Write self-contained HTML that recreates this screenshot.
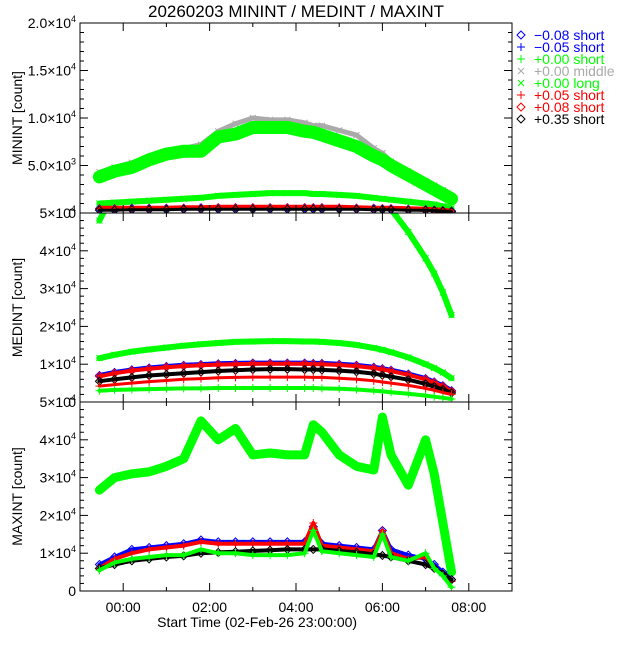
<!DOCTYPE html>
<html><head><meta charset="utf-8"><style>
body{margin:0;background:#fff;}
svg text{font-family:"Liberation Sans",sans-serif;}
</style></head><body>
<svg id="chart" width="640" height="640" xmlns="http://www.w3.org/2000/svg">
<defs>
<clipPath id="c1"><rect x="80" y="23" width="432" height="190"/></clipPath>
<clipPath id="c2"><rect x="80" y="213" width="432" height="189"/></clipPath>
<clipPath id="c3"><rect x="80" y="402" width="432" height="189"/></clipPath>
</defs>
<rect width="640" height="640" fill="#fff"/>
<text x="296" y="17" font-size="17" text-anchor="middle">20260203 MININT / MEDINT / MAXINT</text>
<g id="layer"></g>
</svg>
<script>
// time axis (hours from 00:00)
const T = [-0.55,-0.2,0.2,0.6,1.0,1.4,1.8,2.2,2.6,3.0,3.4,3.8,4.2,4.4,4.6,5.0,5.4,5.8,6.0,6.2,6.6,7.0,7.2,7.4,7.6];
const xTickLabels = ["00:00","02:00","04:00","06:00","08:00"];
const xTickHours = [0,2,4,6,8];
// Panel 1 MININT (x1000 counts)
const p1GreenUp = [3.8,4.4,4.8,5.6,6.2,6.5,6.5,8,8.3,9,9,9,8.6,8.5,8.2,7.6,7,6,5.6,5,4,3,2.5,2,1.5];
const p1Gray = [4.3,4.8,5.3,5.9,6.4,6.8,7.2,8.6,9.4,10,9.8,9.8,9.5,9.2,9.2,8.7,8.2,6.8,6.3,5.4,4.4,3.4,2.9,2.4,1.7];
const p1GreenLow = [1.0,1.1,1.2,1.3,1.4,1.5,1.6,1.8,1.9,2.0,2.1,2.1,2.1,2.0,2.0,1.9,1.8,1.6,1.5,1.4,1.2,1.0,0.9,0.7,0.5];
const p1Red = [0.5,0.5,0.5,0.5,0.5,0.55,0.55,0.6,0.6,0.6,0.6,0.6,0.6,0.6,0.6,0.6,0.55,0.5,0.5,0.5,0.45,0.4,0.35,0.3,0.2];
const p1Blue = [0.45,0.45,0.5,0.5,0.5,0.5,0.55,0.55,0.55,0.55,0.55,0.55,0.55,0.55,0.55,0.5,0.5,0.5,0.45,0.45,0.4,0.35,0.3,0.25,0.2];
const p1Black = [0.3,0.3,0.35,0.35,0.35,0.4,0.4,0.4,0.4,0.4,0.4,0.4,0.4,0.4,0.4,0.4,0.4,0.35,0.35,0.35,0.3,0.3,0.25,0.2,0.15];
// Panel 2 MEDINT
const p2GreenTop = [48,56,60,60,60,60,60,60,60,60,60,60,60,60,60,60,60,60,60,51,45,38,34,29,23];
const p2GreenBand = [11.6,12.5,13.3,13.9,14.4,14.9,15.3,15.6,15.9,16,16.1,16.1,16,16,15.9,15.6,15.1,14.3,13.8,13.2,11.8,10,9,7.8,6.3];
const p2Blue = [7,7.8,8.5,9,9.4,9.7,9.9,10.1,10.2,10.3,10.3,10.3,10.3,10.2,10.2,10,9.7,9.2,8.8,8.4,7.4,6.2,5.3,4.3,3];
const p2RedUp = [6.8,7.6,8.3,8.8,9.2,9.5,9.7,9.9,10,10.1,10.1,10.1,10.1,10,10,9.8,9.5,9,8.6,8.2,7.2,6,5.1,4.1,2.8];
const p2Black = [5.5,6,6.5,7,7.3,7.6,7.9,8.2,8.4,8.6,8.7,8.7,8.6,8.6,8.5,8.3,8,7.5,7.1,6.7,5.9,4.8,4.1,3.3,2.4];
const p2RedLow = [4.2,4.6,5,5.4,5.7,6,6.2,6.4,6.5,6.6,6.6,6.6,6.6,6.5,6.5,6.3,6,5.6,5.3,5,4.4,3.6,3.1,2.5,2];
const p2GreenBot = [3,3.2,3.3,3.4,3.5,3.6,3.6,3.7,3.7,3.7,3.7,3.7,3.7,3.7,3.6,3.5,3.3,3,2.8,2.6,2.2,1.7,1.4,1.1,0.8];
// Panel 3 MAXINT
const p3GreenX = [26.7,30,31,31.5,33,35,45,40,43,36,36.5,36,36,44,42,36,33,32,46,36,28,40,31,18,5];
const p3Blue = [7,9,11,11.5,12,12.5,13.5,13,13,13,13,13,13,17,12.5,12,11.5,11,16,11,9.5,8.5,7,5,3];
const p3Red = [6,8.5,10,11,11.5,12,13,12.5,12.5,12.5,12.5,12.5,12.5,18,12,11.5,11,10.5,16,10,8.5,9,6,4.5,2.5];
const p3Black = [6,7,8,8.5,9,9.3,10,10.2,10.4,10.6,10.8,11,11,11,11,10.6,10.2,9.7,9.4,9,8,7,6,4.5,3];
const p3GreenPlus = [5.5,7.5,8.5,9,9.5,9.5,11,10,10,9.5,9.5,9.5,10,16,10.5,10,9.5,9,15,9,8,10,6,4,1];
// legend
const legendLabels = ["\u22120.08 short","\u22120.05 short","+0.00 short","+0.00 middle","+0.00 long","+0.05 short","+0.08 short","+0.35 short"];
const legendSyms = ["d","+","+","x","x","+","d","d"];
const legendColors = ["#0000ff","#0000ff","#00ff00","#aaaaaa","#00ff00","#ff0000","#ff0000","#000000"];

const NS="http://www.w3.org/2000/svg";
const L=document.getElementById('layer');
const X0=80,X1=512;
function xs(h){return X0+(h+1)/10*(X1-X0);}
const panels=[
 {top:23,bot:213,max:20,clip:'c1',name:'minint',title:'MININT [count]',
  ticks:[[20,'2.0\u00d710','4'],[15,'1.5\u00d710','4'],[10,'1.0\u00d710','4'],[5,'5.0\u00d710','3'],[0,'0','']],minor:1},
 {top:213,bot:402,max:50,clip:'c2',name:'medint',title:'MEDINT [count]',
  ticks:[[50,'5\u00d710','4'],[40,'4\u00d710','4'],[30,'3\u00d710','4'],[20,'2\u00d710','4'],[10,'1\u00d710','4'],[0,'0','']],minor:2},
 {top:402,bot:591,max:50,clip:'c3',name:'maxint',title:'MAXINT [count]',
  ticks:[[50,'5\u00d710','4'],[40,'4\u00d710','4'],[30,'3\u00d710','4'],[20,'2\u00d710','4'],[10,'1\u00d710','4'],[0,'0','']],minor:2}
];
function ys(p,v){return p.bot-v/p.max*(p.bot-p.top);}
function mk(tag,attrs,parent){const e=document.createElementNS(NS,tag);for(const k in attrs)e.setAttribute(k,attrs[k]);(parent||L).appendChild(e);return e;}
function marker(g,sym,x,y,c){
 let d;
 if(sym==='x')d=`M${x-3},${y-3}L${x+3},${y+3}M${x-3},${y+3}L${x+3},${y-3}`;
 else if(sym==='+')d=`M${x-4},${y}L${x+4},${y}M${x},${y-4}L${x},${y+4}`;
 else d=`M${x},${y-4}L${x+4},${y}L${x},${y+4}L${x-4},${y}Z`;
 const e=mk('path',{d:d,stroke:c,fill:'none','stroke-width':1},g);
 
 
}
function series(pi,vals,color,sym,band,name){
 const p=panels[pi];
 const g=mk('g',{'clip-path':`url(#${p.clip})`});
 
 
 const pts=T.map((t,i)=>xs(t).toFixed(1)+','+ys(p,vals[i]).toFixed(1)).join(' ');
 const pl=mk('polyline',{points:pts,fill:'none',stroke:color,'stroke-width':band,'stroke-linejoin':'round','stroke-linecap':'round'},g);
 
 
 T.forEach((t,i)=>marker(g,sym,xs(t),ys(p,vals[i]),color));
}
// series
series(0,p1Gray,'#aaaaaa','x',5,'p1-middle-gray');
series(0,p1GreenUp,'#00ff00','x',13,'p1-green-upper');
series(0,p1GreenLow,'#00ff00','x',6,'p1-green-lower');
series(0,p1Blue,'#0000ff','d',4,'p1-blue');
series(0,p1Red,'#ff0000','+',5,'p1-red');
series(0,p1Black,'#000000','d',3,'p1-black');
series(1,p2GreenTop,'#00ff00','x',6,'p2-green-top');
series(1,p2GreenBand,'#00ff00','x',6,'p2-green-band');
series(1,p2Blue,'#0000ff','d',5,'p2-blue');
series(1,p2RedUp,'#ff0000','d',4,'p2-red-upper');
series(1,p2Black,'#000000','d',4,'p2-black');
series(1,p2RedLow,'#ff0000','+',3,'p2-red-lower');
series(1,p2GreenBot,'#00ff00','+',4,'p2-green-bottom');
series(2,p3GreenX,'#00ff00','x',9,'p3-green-cross');
series(2,p3Blue,'#0000ff','d',4,'p3-blue');
series(2,p3Red,'#ff0000','+',4,'p3-red');
series(2,p3Black,'#000000','d',4,'p3-black');
series(2,p3GreenPlus,'#00ff00','+',4,'p3-green-plus');
// axes
panels.forEach((p,pi)=>{
 const f=mk('rect',{x:X0,y:p.top,width:X1-X0,height:p.bot-p.top,fill:'none',stroke:'#000','stroke-width':1});
 
 
 for(let v=0;v<=p.max;v+=p.minor){
  const y=ys(p,v);const major=p.ticks.some(t=>t[0]===v);const len=major?8:4;
  mk('line',{x1:X0,x2:X0+len,y1:y,y2:y,stroke:'#000'});
  mk('line',{x1:X1,x2:X1-len,y1:y,y2:y,stroke:'#000'});
 }
 p.ticks.forEach(t=>{
  const tx=mk('text',{x:X0-4,y:ys(p,t[0])+5,'font-size':14,'text-anchor':'end'});
  
  
  tx.textContent=t[1];
  if(t[2]){const s=mk('tspan',{dy:-6,'font-size':9},tx);s.textContent=t[2];}
 });
 for(let h=-1;h<=9;h++){
  const x=xs(h);const major=xTickHours.includes(h);const len=major?8:4;
  mk('line',{x1:x,x2:x,y1:p.bot,y2:p.bot-len,stroke:'#000'});
  mk('line',{x1:x,x2:x,y1:p.top,y2:p.top+len,stroke:'#000'});
 }
 const cy=(p.top+p.bot)/2;
 const yt=mk('text',{x:22,y:cy,'font-size':14,'text-anchor':'middle',transform:`rotate(-90 22 ${cy})`});
 
 
 yt.textContent=p.title;
});
xTickLabels.forEach((l,i)=>{
 const t=mk('text',{x:xs(xTickHours[i]),y:612,'font-size':14,'text-anchor':'middle'});
 
 
 t.textContent=l;
});
const xt=mk('text',{x:xs(3.1),y:627,'font-size':14,'text-anchor':'middle'});


xt.textContent='Start Time (02-Feb-26 23:00:00)';
// legend
legendLabels.forEach((l,i)=>{
 const y=35+i*12;
 const g=mk('g',{});
 
 
 marker(g,legendSyms[i],521,y,legendColors[i]);
 const t=mk('text',{x:534,y:y+5,'font-size':14,fill:legendColors[i]},g);
 t.textContent=l;
});
</script>
</body></html>
